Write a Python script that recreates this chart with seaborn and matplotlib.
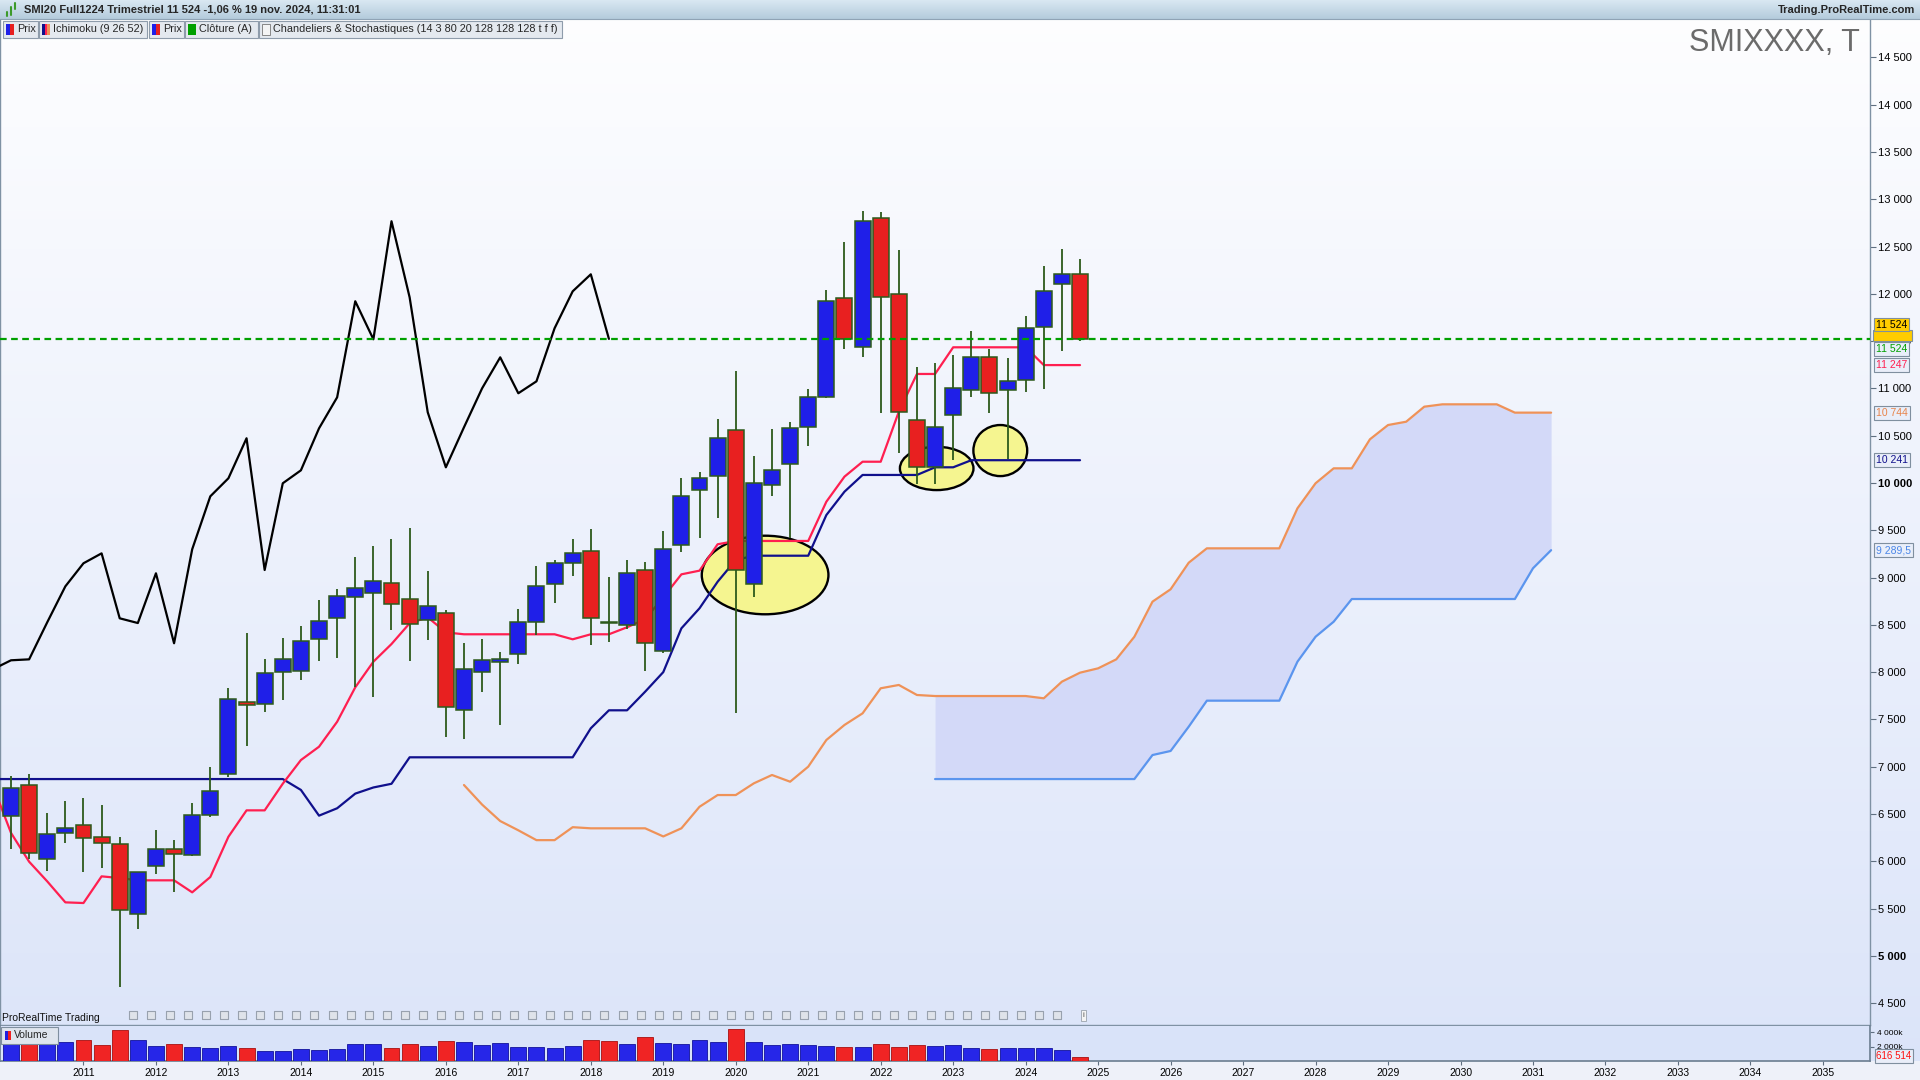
import numpy as np
import pandas as pd
import matplotlib
matplotlib.use("Agg")
import matplotlib.pyplot as plt
import matplotlib.transforms as mtransforms
from matplotlib.patches import Ellipse, Rectangle
from matplotlib.colors import LinearSegmentedColormap
from matplotlib.lines import Line2D
import seaborn as sns

# ---------------- data ----------------
quarter_index = list(range(60))   # 0 = Q1 2010 ... 59 = Q4 2024
opens = [6475, 6806, 6020, 6295, 6380, 6253, 6179, 5442, 5953, 6126,
         6062, 6486, 6919, 7681, 7660, 8004, 8015, 8347, 8569, 8791,
         8833, 8939, 8770, 8548, 8622, 7596, 8004, 8110, 8195, 8527,
         8929, 9151, 9278, 8525, 8495, 9077, 8220, 9341, 9923, 10071,
         10557, 8929, 9976, 10198, 10589, 10906, 11953, 11435, 12799, 11996,
         10663, 10166, 10716, 10983, 11329, 10980, 11086, 11650, 12101, 12207]
highs = [6900, 6920, 6510, 6637, 6668, 6594, 6256, 5890, 6330, 6224,
         6616, 6996, 7829, 8414, 8139, 8361, 8488, 8763, 8876, 9214,
         9330, 9408, 9524, 9069, 8657, 8305, 8350, 8216, 8667, 9122,
         9182, 9408, 9513, 9003, 9182, 9164, 9492, 10053, 10116, 10677,
         11184, 10285, 10571, 10642, 10991, 12041, 12549, 12877, 12866, 12464,
         11227, 11269, 11354, 11607, 11417, 11322, 11766, 12295, 12475, 12369]
lows = [6130, 6020, 5900, 6196, 5889, 5931, 4673, 5286, 5865, 5678,
        6060, 6471, 6887, 7222, 7581, 7705, 7916, 8121, 8152, 7846,
        7740, 8448, 8121, 8343, 7317, 7289, 7793, 7441, 8086, 8396,
        8734, 9020, 8290, 8322, 8456, 8015, 8205, 9273, 9421, 9633,
        7571, 8797, 9866, 9415, 10394, 10896, 11420, 11336, 10737, 10314,
        9989, 9989, 10243, 10913, 10743, 10257, 10966, 10997, 11399, 11500]
closes = [6770, 6084, 6285, 6348, 6242, 6189, 5481, 5883, 6129, 6073,
          6486, 6739, 7719, 7649, 7987, 8135, 8326, 8537, 8802, 8886,
          8960, 8717, 8506, 8696, 7628, 8030, 8125, 8135, 8527, 8907,
          9151, 9256, 8569, 8519, 9045, 8305, 9299, 9859, 10050, 10473,
          9080, 9997, 10134, 10578, 10906, 11922, 11520, 12768, 11964, 10748,
          10166, 10589, 11001, 11329, 10949, 11075, 11636, 12027, 12207, 11524]
volumes_k = [2299, 2437, 2437, 2575, 2851, 2161, 4230, 2851, 2023, 2299,
             1885, 1747, 2023, 1747, 1333, 1333, 1609, 1471, 1609, 2299,
             2299, 1747, 2299, 2023, 2713, 2575, 2161, 2437, 1885, 1885,
             1747, 2023, 2851, 2713, 2299, 3264, 2437, 2299, 2851, 2575,
             4368, 2575, 2161, 2299, 2161, 2023, 1885, 1885, 2299, 1885,
             2161, 2023, 2161, 1747, 1609, 1747, 1747, 1747, 1471, 616.514]

line_x = list(range(-1, 60))
tenkan = [6800, 6300, 5995, 5787, 5565, 5558, 5840, 5822, 5798, 5798, 5798,
          5671, 5833, 6259, 6538, 6538, 6820, 7070, 7211, 7475, 7839,
          8110, 8297, 8516, 8580, 8420, 8400, 8400, 8400, 8400, 8400,
          8400, 8347, 8400, 8400, 8474, 8560, 8791, 9034, 9073, 9352,
          9387, 9387, 9387, 9387, 9387, 9802, 10067, 10225, 10225, 10754,
          11153, 11153, 11435, 11435, 11435, 11435, 11435, 11247, 11247, 11247]
kijun = [6869, 6869, 6869, 6869, 6869, 6869, 6869, 6869, 6869, 6869, 6869,
         6869, 6869, 6869, 6869, 6869, 6869, 6754, 6482, 6560, 6715,
         6780, 6819, 7099, 7099, 7099, 7099, 7099, 7099, 7099, 7099,
         7099, 7099, 7406, 7596, 7596, 7793, 8000, 8463, 8675, 8956,
         9186, 9231, 9231, 9231, 9231, 9661, 9908, 10085, 10085, 10085,
         10085, 10166, 10166, 10241, 10241, 10241, 10241, 10241, 10241, 10241]
senkou_a_x = list(range(25, 86))
senkou_a = [6806, 6599, 6425, 6327, 6223, 6223, 6360, 6348, 6348, 6348,
            6348, 6262, 6348, 6576, 6700, 6700, 6824, 6912, 6841, 7000,
            7282, 7441, 7564, 7829, 7864, 7758, 7747, 7747, 7747, 7747,
            7747, 7747, 7723, 7899, 7994, 8040, 8135, 8374, 8745, 8876,
            9157, 9309, 9309, 9309, 9309, 9309, 9732, 9997, 10155, 10155,
            10462, 10613, 10648, 10807, 10832, 10832, 10832, 10832, 10744, 10744,
            10744]
senkou_b_x = list(range(51, 86))
senkou_b = [6869, 6869, 6869, 6869, 6869, 6869, 6869, 6869, 6869, 6869,
            6869, 6869, 7123, 7166, 7423, 7698, 7698, 7698, 7698, 7698,
            8110, 8374, 8533, 8773, 8773, 8773, 8773, 8773, 8773, 8773,
            8773, 8773, 8773, 9098, 9289.5]
years = list(range(2011, 2036))
price_ticks = list(range(4500, 15000, 500))
volume_ticks = [2000, 4000]
volume_tick_labels = ["2 000k", "4 000k"]
# highlighted zones (centre quarter, centre price, width in quarters, height in points)
zones_x = [41.62, 51.09, 54.6]
zones_y = [9027, 10154, 10343]
zones_w = [6.99, 4.06, 2.97]
zones_h = [831, 458, 540]

header_title = "SMI20 Full1224 Trimestriel 11 524 -1,06 % 19 nov. 2024, 11:31:01"
chart_name = "SMIXXXX, T"

# ---------------- style ----------------
sns.set_theme(style="white")
plt.rcParams['font.family'] = ['Liberation Sans', 'DejaVu Sans']

BLUE = '#1f1fe8'
RED = '#e82020'
EDGE = '#2d5a1b'
TENKAN_C = '#ff1f50'
KIJUN_C = '#10108c'
SA_C = '#ef9258'
SB_C = '#5b95ee'

W, H = 1920, 1080
fig = plt.figure(figsize=(W / 100, H / 100), dpi=100)
fig.patch.set_facecolor('#eef2fb')


def fx(px):
    return px / W


def fy(py):
    return 1 - py / H


def fig_rect(x0, y0, x1, y1, **kw):
    r = Rectangle((fx(x0), fy(y1)), fx(x1) - fx(x0), (y1 - y0) / H,
                  transform=fig.transFigure, **kw)
    fig.add_artist(r)
    return r


# background gradient
bg = fig.add_axes([0, 0, 1, 1], zorder=-10)
bg.imshow(np.linspace(0, 1, 256).reshape(-1, 1), aspect='auto',
          cmap=LinearSegmentedColormap.from_list('bg', ['#fefeff', '#dbe4f9']),
          extent=[0, 1, 0, 1], origin='upper')
bg.set_axis_off()

XMIN, XMAX = -0.607, 102.6
YMIN, YMAX = 4268, 14907

ax = fig.add_axes([0, fy(1025), fx(1870), (1025 - 19) / H])
ax.patch.set_alpha(0)

# cloud
ax.fill_between(senkou_b_x, senkou_a[senkou_b_x[0] - senkou_a_x[0]:], senkou_b,
                color='#d3d9f8', lw=0, zorder=1)

# highlighted zones
for cx, cy, w, h in zip(zones_x, zones_y, zones_w, zones_h):
    ax.add_patch(Ellipse((cx, cy), w, h, fc='#f5f590', ec='black', lw=1.7, zorder=2))

# ichimoku lines
sns.lineplot(x=senkou_a_x, y=senkou_a, ax=ax, color=SA_C, linewidth=1.6,
             zorder=3, legend=False, estimator=None)
sns.lineplot(x=senkou_b_x, y=senkou_b, ax=ax, color=SB_C, linewidth=1.6,
             zorder=3, legend=False, estimator=None)
sns.lineplot(x=line_x, y=kijun, ax=ax, color=KIJUN_C, linewidth=1.6,
             zorder=3, legend=False, estimator=None)
sns.lineplot(x=line_x, y=tenkan, ax=ax, color=TENKAN_C, linewidth=1.6,
             zorder=3, legend=False, estimator=None)
chikou_x = [q - 26 for q in quarter_index[25:]]
chikou_y = closes[25:]
sns.lineplot(x=chikou_x, y=chikou_y, ax=ax, color='black', linewidth=1.6,
             zorder=3, legend=False, estimator=None)

# candles
up = [c >= o for o, c in zip(opens, closes)]
body_col = [BLUE if u else RED for u in up]
body_bot = [min(o, c) for o, c in zip(opens, closes)]
body_h = [max(abs(c - o), 6) for o, c in zip(opens, closes)]
ax.vlines(quarter_index, lows, highs, color=EDGE, lw=1.3, zorder=4)
ax.bar(quarter_index, body_h, bottom=body_bot, width=0.88, color=body_col,
       edgecolor=EDGE, linewidth=1.1, zorder=5)

# last close line
ax.axhline(closes[-1], color='#00a000', lw=1.6, ls=(0, (3, 2)), zorder=6)

ax.set_xlim(XMIN, XMAX)
ax.set_ylim(YMIN, YMAX)
ax.set_xlabel('')
ax.set_ylabel('')
ax.grid(False)
ax.yaxis.tick_right()
ax.set_yticks(price_ticks)
ax.set_yticklabels([f"{t:,}".replace(",", " ") for t in price_ticks])
for lbl, t in zip(ax.get_yticklabels(), price_ticks):
    if t in (5000, 10000):
        lbl.set_fontweight('bold')
ax.set_xticks([])
ax.tick_params(axis='y', direction='out', length=4, width=0.8, colors='#5f6f80',
               labelcolor='black', labelsize=8, pad=2, right=True, left=False)
ax.spines['top'].set_visible(False)
for s in ['left', 'right', 'bottom']:
    ax.spines[s].set_color('#7f92a4')
    ax.spines[s].set_linewidth(1.0)

# icon row near bottom of price panel
trans_xa = mtransforms.blended_transform_factory(ax.transData, ax.transAxes)
icon_pos = np.arange(6.75, 58.0, 1.0)
ax.scatter(icon_pos, np.full(len(icon_pos), 0.0095), transform=trans_xa, marker='s', s=34,
           facecolor='#dfe3ea', edgecolor='#98a1ae', linewidth=0.8, zorder=7, clip_on=False)
ax.text(59.2, 0.0095, 'i', transform=trans_xa, fontsize=6, ha='center', va='center',
        color='#555555', bbox=dict(boxstyle='square,pad=0.2', fc='#f4f4f4', ec='#9aa3ad', lw=0.6))
fig.text(fx(2), fy(1018), 'ProRealTime Trading', fontsize=7.5, ha='left', va='center', color='#111111')

# right-hand value labels
trans_ay = mtransforms.blended_transform_factory(ax.transAxes, ax.transData)


def rlabel(axis, tr, yv, txt, col, fc, size=7.5):
    axis.text(1.0034, yv, txt, transform=tr, fontsize=size, color=col, ha='left', va='center',
              zorder=10, clip_on=False,
              bbox=dict(boxstyle='square,pad=0.18', fc=fc, ec='#7f8f9f', lw=0.8))


# second (hidden) price flag peeking between the first one and the green one
ax.add_patch(Rectangle((fx(1873), fy(341)), fx(1912) - fx(1873), 11 / H,
                       transform=fig.transFigure, fc='#ffcc00', ec='#7f8f9f', lw=0.8,
                       zorder=9, clip_on=False))
rlabel(ax, trans_ay, 11675, '11 524', 'black', '#ffcc00')
rlabel(ax, trans_ay, 11415, '11 524', '#00a000', '#e9eef9')
rlabel(ax, trans_ay, 11247, '11 247', TENKAN_C, '#e9eef9')
rlabel(ax, trans_ay, 10744, '10 744', '#e8844a', '#e9eef9')
rlabel(ax, trans_ay, 10241, '10 241', KIJUN_C, '#e9eef9')
rlabel(ax, trans_ay, 9289.5, '9 289,5', '#4a86e8', '#e9eef9')

fig.text(fx(1860), fy(43), chart_name, fontsize=22, color='#6b6b6b', ha='right', va='center')

# ---------------- volume panel ----------------
axv = fig.add_axes([0, fy(1061), fx(1870), 35 / H])
axv.set_facecolor('#d9e3f9')
vol_col = ['#2626e8' if u else '#f02424' for u in up]
vol_edge = ['#12129a' if u else '#a81010' for u in up]
axv.bar(quarter_index, volumes_k, width=0.88, color=vol_col, edgecolor=vol_edge, linewidth=0.6, zorder=3)
axv.set_xlim(XMIN, XMAX)
axv.set_ylim(0, 4830)
axv.yaxis.tick_right()
axv.set_yticks(volume_ticks)
axv.set_yticklabels(volume_tick_labels)
axv.set_xticks([4 * (y - 2010) for y in years])
axv.set_xticklabels([str(y) for y in years])
axv.tick_params(axis='y', direction='out', length=3, width=0.8, colors='#5f6f80',
                labelcolor='black', labelsize=6, pad=2, right=True, left=False)
axv.tick_params(axis='x', direction='out', length=3, width=0.8, colors='#5f6f80',
                labelcolor='black', labelsize=7.5, pad=2, bottom=True)
axv.grid(False)
axv.spines['top'].set_visible(False)
for s in ['left', 'right', 'bottom']:
    axv.spines[s].set_color('#6f8294')
trans_v = mtransforms.blended_transform_factory(axv.transAxes, axv.transData)
rlabel(axv, trans_v, 660, '616 514', '#ff1010', '#e9eef9', size=7)
# volume legend box
fig_rect(1, 1027, 58, 1044, fc='#dfe5ee', ec='#7f8f9f', lw=0.8, zorder=8)
fig_rect(5, 1031, 8, 1040, fc='#2020e0', ec='none', zorder=9)
fig_rect(8, 1031, 11, 1040, fc='#f02020', ec='none', zorder=9)
fig.text(fx(14), fy(1035.5), 'Volume', fontsize=7.5, ha='left', va='center', zorder=10)

# strip under the volume panel
fig_rect(0, 1061, 1920, 1080, fc='#eef1f9', ec='none', zorder=-5)

# ---------------- header ----------------
hx = fig.add_axes([0, fy(19), 1, 19 / H])
hx.imshow(np.linspace(0, 1, 64).reshape(-1, 1), aspect='auto',
          cmap=LinearSegmentedColormap.from_list('hd', ['#d9e8f2', '#b4cbdc']),
          extent=[0, 1, 0, 1], origin='upper')
hx.set_axis_off()
fig.add_artist(Line2D([0, 1], [fy(19), fy(19)], transform=fig.transFigure, color='#8fa3b5', lw=0.8))
for xx, y0, y1, lw in [(7, 12, 16, 1.5), (11, 7, 15, 1.5), (15, 3, 9, 1.5)]:
    fig.add_artist(Line2D([fx(xx), fx(xx)], [fy(y1), fy(y0)], transform=fig.transFigure,
                          color='#3c9a2a', lw=lw))
fig.text(fx(24), fy(10), header_title, fontsize=8, fontweight='bold', ha='left', va='center')
fig.text(fx(1915), fy(10), 'Trading.ProRealTime.com', fontsize=8, fontweight='bold',
         ha='right', va='center')

# legend row
legend_items = [
    (3, 38, 'Prix', ['#1f1fe8', '#e82020']),
    (39, 147, 'Ichimoku (9 26 52)', ['#10108c', '#ff1f50', '#ef9258']),
    (149, 184, 'Prix', ['#1f1fe8', '#e82020']),
    (185, 258, 'Clôture (A)', ['#00a000']),
    (259, 562, 'Chandeliers & Stochastiques (14 3 80 20 128 128 128 t f f)', ['#f4f4f4']),
]
for x0, x1, txt, cols in legend_items:
    fig_rect(x0, 21, x1, 38, fc='#e4e9ef', ec='#8e9cab', lw=0.8, zorder=8)
    n = len(cols)
    wseg = 8 / n
    for k, c in enumerate(cols):
        fig_rect(x0 + 3 + k * wseg, 24, x0 + 3 + (k + 1) * wseg, 35, fc=c,
                 ec='#777777' if c == '#f4f4f4' else 'none', lw=0.6, zorder=9)
    fig.text(fx(x0 + 14), fy(29.5), txt, fontsize=7.8, ha='left', va='center', zorder=10)

fig.savefig('out.png', dpi=100, facecolor=fig.get_facecolor())
